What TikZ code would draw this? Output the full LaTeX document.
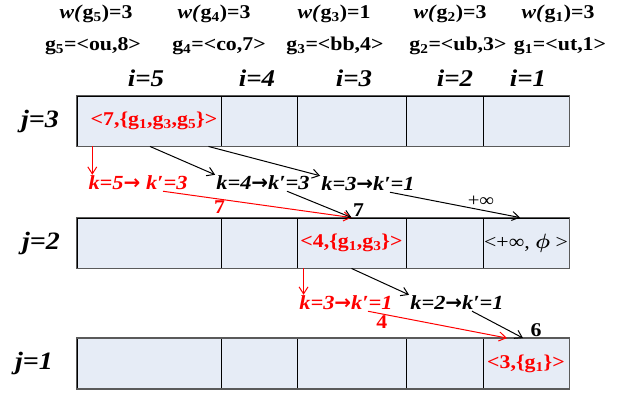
\documentclass[tikz,border=0pt]{standalone}
\usepackage{fontspec}
\setmainfont{Liberation Serif}[FakeStretch=1.12]
\newfontfamily\arrowfont{DejaVu Sans}
\usepackage{bm}
\usetikzlibrary{arrows.meta, positioning}
\definecolor{clrCell}{HTML}{E6ECF6}
\definecolor{clrFrame}{HTML}{5A5A5A}
\definecolor{clrRed}{HTML}{FF0000}
\newcommand{\kto}{{\arrowfont\bfseries\upshape →}}
\tikzset{
  cell/.style = {rectangle, draw=black, line width=0.9pt, fill=clrCell, minimum height=50,
                 inner sep=0pt},
  celltext/.style = {font=\fontsize{19.5}{21}\selectfont\bfseries, inner sep=1pt},
  rowframe/.style = {draw=clrFrame, line width=1.6pt},
  hdr/.style = {font=\fontsize{19.5}{21}\selectfont\bfseries, inner sep=1pt},
  ilbl/.style = {font=\fontsize{24}{26}\selectfont\bfseries\itshape, inner sep=1pt},
  jlbl/.style = {font=\fontsize{25}{27}\selectfont\bfseries\itshape, inner sep=1pt},
  klbl/.style = {font=\fontsize{20}{22}\selectfont\bfseries\itshape, inner sep=1pt},
  cost/.style = {font=\fontsize{19.5}{21}\selectfont\bfseries, inner sep=1pt},
  arrow/.style = {-{Straight Barb[length=7pt, width=9pt]}, line width=1pt},
  redarrow/.style = {arrow, draw=clrRed},
}
\begin{document}
\begin{tikzpicture}[x=1pt, y=-1pt]
  \useasboundingbox (0,0) rectangle (630,392);
  % y-positions of the three rows
  \def\yRowC{121}
  \def\yRowB{243}
  \def\yRowA{363.5}

  % --- Header: weights, items and i labels ---
  \foreach \n/\xw/\xg/\xi/\wt/\gv in {5/96/93/146/3/{ou,8}, 4/214/219/257/3/{co,7},
      3/334/335/354/1/{bb,4}, 2/450/458/455/3/{ub,3}, 1/558/560/528/3/{ut,1}} {
    \node[hdr] at (\xw,14) (w\n) {\textit{w(}g\textsubscript{\n})=\wt};
    \node[hdr] at (\xg,46) (g\n) {g\textsubscript{\n}=<\gv>};
    \node[ilbl] at (\xi,78) (i\n) {i=\n};
  }

  % --- Rows of cells ---
  \foreach \row/\y in {3/\yRowC, 2/\yRowB, 1/\yRowA} {
    \foreach \i/\x/\w in {5/149/144, 4/259/76, 3/351.5/109, 2/444.5/77, 1/526/86}
      \node[cell, minimum width=\w] at (\x,\y) (r\row i\i) {};
    \draw[rowframe] (r\row i5.north west) rectangle (r\row i1.south east);
  }
  \node[jlbl] at (40,\yRowC) (j3) {j=3};
  \node[jlbl] at (41,\yRowB) (j2) {j=2};
  \node[jlbl] at (34,\yRowA) (j1) {j=1};

  % cell contents
  \node[celltext, text=clrRed, xshift=5pt] at (r3i5) (t3) {<7,\{g\textsubscript{1},g\textsubscript{3},g\textsubscript{5}\}>};
  \node[celltext, text=clrRed] at (r2i3) (t2) {<4,\{g\textsubscript{1},g\textsubscript{3}\}>};
  \node[celltext, font=\fontsize{19.5}{21}\selectfont] at (r2i1) (t2b) {<+∞, $\bm{\phi}$ >};
  \node[celltext, text=clrRed] at (r1i1) (t1) {<3,\{g\textsubscript{1}\}>};

  % --- Transitions j=3 -> j=2 ---
  \node[klbl, text=clrRed] at (138,183) (kA) {k=5\kto\ k′=3};
  \node[klbl] at (263,183) (kB) {k=4\kto k′=3};
  \node[klbl] at (368,184) (kC) {k=3\kto k′=1};
  \draw[redarrow] ([xshift=5pt]kA.north west |- r3i5.south) -- ([xshift=5pt]kA.north west);
  \draw[arrow] ([xshift=1pt]r3i5.south) -- (kB.north west);
  \draw[arrow] ([xshift=-13pt]r3i5.south east) -- (kC.north west);
  \draw[redarrow] ([xshift=25pt]kA.south) -- node[cost, text=clrRed, pos=0.3, below] {7} (r2i3.north);
  \draw[arrow] ([xshift=24pt]kB.south) -- (r2i3.north) node[cost, above right] {7};
  \draw[arrow] ([xshift=22pt]kC.south) -- node[pos=0.7, above, font=\fontsize{18.5}{20}\selectfont] {+∞} ([xshift=-6pt]r2i1.north);

  % --- Transitions j=2 -> j=1 ---
  \node[klbl, text=clrRed] at (346,303) (kD) {k=3\kto k′=1};
  \node[klbl] at (457,303) (kE) {k=2\kto k′=1};
  \draw[redarrow] ([xshift=7pt]r2i3.south west) -- ([xshift=7pt]r2i3.south west |- kD.north);
  \draw[arrow] (r2i3.south) -- (kE.north west);
  \draw[redarrow] ([xshift=22pt]kD.south) -- node[cost, text=clrRed, pos=0.1, below] {4} ([xshift=-19pt]r1i1.north);
  \draw[arrow] ([xshift=15pt]kE.south) -- ([xshift=-3pt]r1i1.north) node[cost, above right, xshift=6pt] {6};
\end{tikzpicture}
\end{document}
